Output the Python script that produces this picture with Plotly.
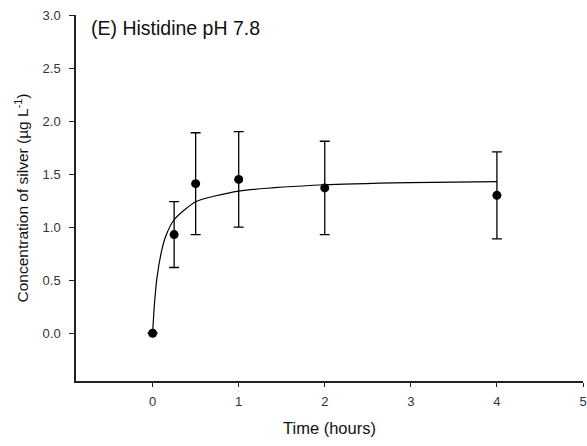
import plotly.graph_objects as go

time_h = [0, 0.25, 0.5, 1, 2, 4]
conc = [0.0, 0.93, 1.41, 1.45, 1.37, 1.30]
err = [0.0, 0.31, 0.48, 0.45, 0.44, 0.41]

fit_x = [0, 0.02, 0.05, 0.1, 0.15, 0.25, 0.5, 1, 2, 3, 4]
fit_y = [0.0, 0.26, 0.52, 0.76, 0.91, 1.07, 1.24, 1.34, 1.40, 1.42, 1.43]

x_ticks = [0, 1, 2, 3, 4, 5]
y_ticks = [0.0, 0.5, 1.0, 1.5, 2.0, 2.5, 3.0]

font = "Liberation Sans, Arial, sans-serif"

fig = go.Figure()
fig.add_trace(go.Scatter(x=fit_x, y=fit_y, mode="lines", line=dict(color="black", width=1.2, shape="spline", smoothing=0.6), hoverinfo="skip"))
fig.add_trace(go.Scatter(
    x=time_h, y=conc, mode="markers",
    marker=dict(color="black", size=9),
    error_y=dict(type="data", array=err, visible=True, color="black", thickness=1.3, width=5),
))

fig.update_layout(
    width=587, height=446,
    margin=dict(l=76, r=0, t=15, b=65),
    paper_bgcolor="white", plot_bgcolor="white",
    showlegend=False,
    font=dict(family=font, color="#222"),
    xaxis=dict(range=[-0.89, 5], tickvals=x_ticks, ticktext=[str(v) for v in x_ticks],
               showgrid=False, zeroline=False, showline=True, linecolor="#222", linewidth=1.5,
               ticks="outside", ticklen=4, tickcolor="#222", tickfont=dict(size=13, color="#333"),
               ticklabeloverflow="allow", ticklabelstandoff=4,
               title=dict(text="Time (hours)", font=dict(size=16.5, color="#111"), standoff=14)),
    yaxis=dict(range=[-0.45, 3.0], tickvals=y_ticks, ticktext=["%.1f" % v for v in y_ticks],
               showgrid=False, zeroline=False, showline=True, linecolor="#222", linewidth=1.5,
               ticks="outside", ticklen=5, tickcolor="#222", tickfont=dict(size=13, color="#333"),
               ticklabelstandoff=6,
               title=dict(text="Concentration of silver (µg L<sup>-1</sup>)", font=dict(size=15.5, color="#111"), standoff=10)),
    annotations=[dict(text="(E) Histidine pH 7.8", x=0.026, y=1.0, xref="paper", yref="paper",
                      xanchor="left", yanchor="top", showarrow=False,
                      font=dict(size=19.5, color="#111", family=font))],
)

fig.write_html("out.html")
